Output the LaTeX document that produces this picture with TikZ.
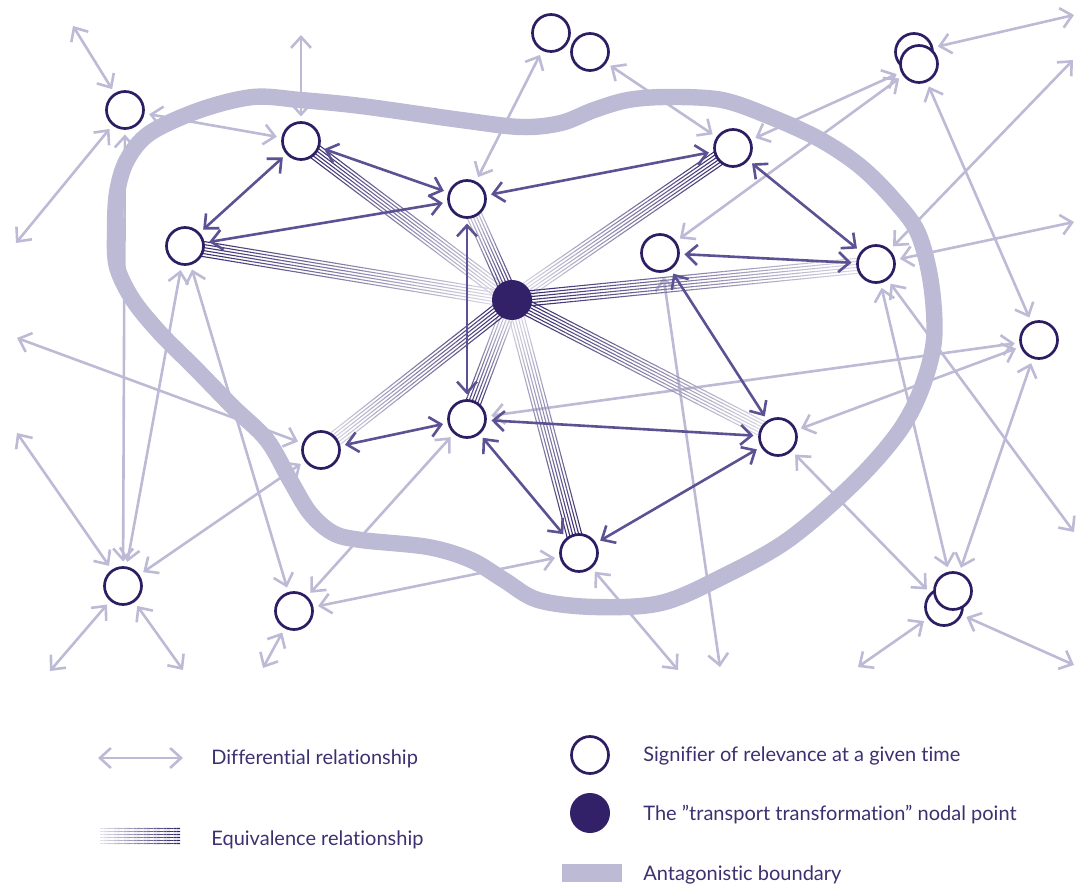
\documentclass[tikz,border=0pt]{standalone}
\usepackage{fontspec}
\setmainfont{Lato}[Ligatures=NoCommon]
\usepackage{tikz}
\usetikzlibrary{calc,arrows.meta,backgrounds}

\definecolor{colLight}{RGB}{189,186,213}
\definecolor{colDark}{RGB}{91,81,147}
\definecolor{colNode}{RGB}{45,30,100}
\definecolor{colHub}{RGB}{50,32,104}
\definecolor{colEq}{RGB}{50,36,105}
\definecolor{colText}{RGB}{62,48,112}

\newcommand\eqbundle[2]{%
  \foreach \o in {-3.75,-2.25,...,3.75}{
    \coordinate (p) at ($(#1)!\o pt!90:(#2)$);
    \coordinate (q) at ($(#2)!\o pt!-90:(#1)$);
    \foreach \k in {0,...,23}{
      \pgfmathsetmacro\shade{100-3.7*\k}
      \draw[eqline, colEq!\shade!white] ($(p)!\k/24!(q)$) -- ($(p)!\k/24+1/24!(q)$);
    }
  }}

\begin{document}
\begin{tikzpicture}[x=0.5pt, y=-0.5pt,
    >={Straight Barb[length=5.5pt,width=10pt]},
    sig/.style={circle, draw=colNode, line width=1.35pt, fill=white, minimum size=18.5pt, inner sep=0pt, outer sep=3pt},
    hub/.style={circle, fill=colHub, minimum size=20pt, inner sep=0pt, outer sep=0pt},
    diff/.style={<->, colLight, line width=1.3pt},
    inner/.style={<->, colDark, line width=1.3pt},
    eqline/.style={line width=0.55pt},
    boundary/.style={colLight, line width=8.2pt, line join=round},
    legend/.style={anchor=base west, inner sep=0pt, text=colText, font=\fontsize{10}{12}\selectfont}]
  \useasboundingbox (0,0) rectangle (1082,887);

  \node[hub] (hub) at (512,300) {};
  \node[sig] (n1) at (125,110) {};
  \node[sig] (n2) at (301,141) {};
  \node[sig] (n3) at (467,199) {};
  \node[sig] (n4) at (185,246) {};
  \node[sig] (n5) at (733,148) {};
  \node[sig] (n6) at (660,253) {};
  \node[sig] (n7) at (876,264) {};
  \node[sig] (n8) at (1039,340) {};
  \node[sig] (n9) at (321,450) {};
  \node[sig] (n10) at (467,419) {};
  \node[sig] (n11) at (778,437) {};
  \node[sig] (n12) at (579,553) {};
  \node[sig] (n13) at (123,586) {};
  \node[sig] (n14) at (294,611) {};
  \node[sig] (t1) at (551,33) {};
  \node[sig] (t2) at (590,52) {};
  \node[sig] (r1) at (914,52) {};
  \node[sig] (r2) at (919,64) {};
  \node[sig] (b1) at (944,607) {};
  \node[sig] (b2) at (953,591) {};

  \coordinate (e1) at (73,26);
  \coordinate (e2) at (16,243);
  \coordinate (e3) at (301,35);
  \coordinate (e4) at (1074,15);
  \coordinate (e5) at (1073,60);
  \coordinate (e6) at (1074,222);
  \coordinate (e7) at (1074,532);
  \coordinate (e8) at (17,338);
  \coordinate (e9) at (17,433);
  \coordinate (e10) at (50,671);
  \coordinate (e11) at (183,670);
  \coordinate (e12) at (263,668);
  \coordinate (e13) at (678,670);
  \coordinate (e14) at (720,667);
  \coordinate (e15) at (858,667);
  \coordinate (e16) at (1074,665);

  \begin{pgfonlayer}{background}
    \draw[boundary] plot[smooth cycle, tension=0.55] coordinates {
      (253,97) (300,100) (361,106) (461,120) (521,127) (561,123) (594,110)
      (628,100) (668,97) (722,100) (771,117) (821,140) (861,167) (894,200)
      (918,233) (931,283) (934,340) (921,390) (898,433) (854,483) (788,540)
      (722,577) (661,603) (594,607) (538,600) (504,580) (471,560) (428,547)
      (361,540) (333,533) (310,513) (290,480) (267,440) (233,407) (195,368)
      (160,333) (133,300) (117,267) (115,233) (117,193) (127,160) (150,133)
      (200,110)};

    \foreach \a/\b in {n1/e1,n1/e2,n1/n2,n2/e3,n1/n13,n4/n13,n4/n14,n3/t1,t2/n5,
        r1/e4,n5/r2,n6/r2,r2/n8,n7/e5,n7/e6,n7/b2,n7/e7,n11/b1,n8/b2,n11/n8,
        n10/n8,b1/e15,b1/e16,n6/e14,n9/e8,n13/e9,n9/n13,n13/e10,n13/e11,
        n14/e12,n14/n10,n14/n12,n12/e13}
      \draw[diff] (\a) -- (\b);

    \foreach \n in {n2,n4,n5,n10,n12}{\eqbundle{\n}{hub}}
    \foreach \n in {n3,n7,n9,n11}{\eqbundle{hub}{\n}}

    \foreach \a/\b in {n2/n4,n4/n3,n2/n3,n3/n5,n5/n7,n6/n7,n6/n11,n3/n10,
        n9/n10,n10/n12,n10/n11,n12/n11}
      \draw[inner] (\a) -- (\b);
  \end{pgfonlayer}

  \coordinate (ld1) at (98,758);
  \coordinate (ld2) at (183,758);
  \draw[diff] (ld1) -- (ld2);
  \coordinate (le1) at (100,836);
  \coordinate (le2) at (180,836);
  \eqbundle{le2}{le1}
  \node[sig] (lsig) at (590,755) {};
  \node[hub] (lhub) at (590,813) {};
  \fill[colLight] (562,864) rectangle (622,882);

  \node[legend] (txd) at (211,764) {Differential relationship};
  \node[legend] (txe) at (211,845) {Equivalence relationship};
  \node[legend] (txs) at (643,761) {Signifier of relevance at a given time};
  \node[legend] (txh) at (643,820) {The ”transport transformation” nodal point};
  \node[legend] (txb) at (643,880) {Antagonistic boundary};
\end{tikzpicture}
\end{document}
